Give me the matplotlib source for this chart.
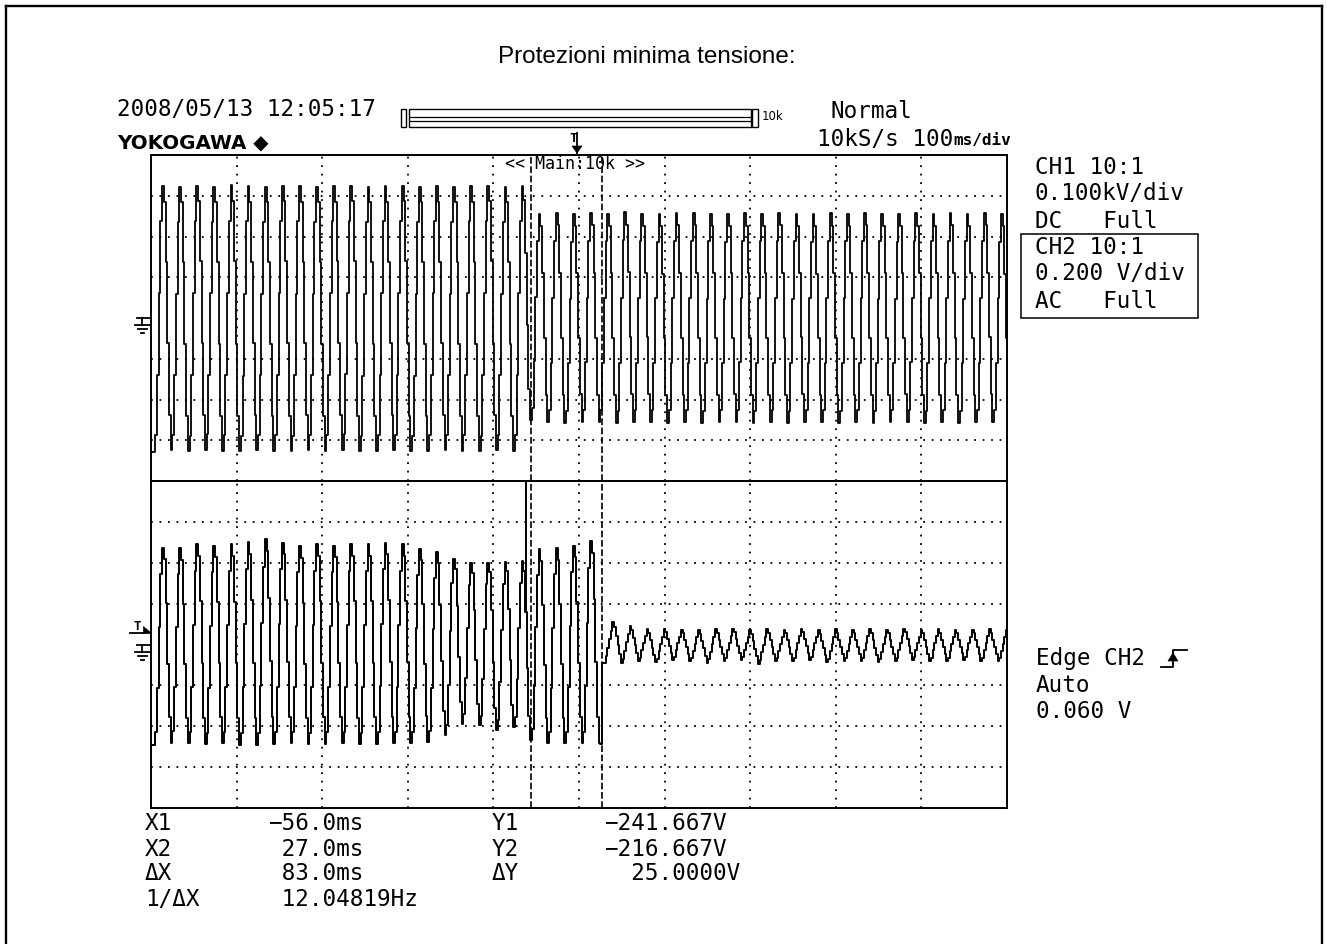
import numpy as np
import matplotlib
matplotlib.use("Agg")
import matplotlib.pyplot as plt
from matplotlib.lines import Line2D
from matplotlib.patches import Rectangle, Polygon

# ---------------- data ----------------
time_per_div_ms = 100.0
ch1_volts_per_div = 100.0      # 0.100 kV/div
ch2_volts_per_div = 0.200      # 0.200 V/div
trigger_level_V = 0.060
trigger_pos_ms = 0.0
cursor_x_ms = [-56.0, 27.0]
cursor_y_V = [-241.667, -216.667]

period_ms = 20.0
first_peak_ms = -485.6

ch1_peak_V = [326, 324, 327, 325, 328, 326, 325, 327, 326, 324, 326, 327, 325, 326,
              327, 325, 326, 324, 326, 327, 325, 326,
              258, 260, 257, 259, 258, 261, 258, 257, 259, 260, 258, 257, 259, 258,
              260, 258, 257, 259, 258, 260, 258, 257, 259, 258, 260, 258, 259, 257]
ch1_trough_V = [-328, -327, -329, -326, -328, -330, -327, -328, -329, -327, -328, -326,
                -329, -328, -327, -329, -328, -327, -328, -329, -327, -328,
                -252, -258, -259, -257, -258, -260, -258, -257, -259, -258, -260, -258,
                -257, -259, -258, -260, -257, -258, -259, -258, -260, -258, -257, -259,
                -258, -260, -258, -257, -259]

ch2_peak_V = [0.478, 0.474, 0.494, 0.486, 0.494, 0.506, 0.518, 0.502, 0.486, 0.494,
              0.486, 0.494, 0.494, 0.502, 0.494, 0.470, 0.454, 0.420, 0.400, 0.404,
              0.408, 0.412, 0.470, 0.474, 0.486, 0.508]
ch2_trough_V = [-0.490, -0.484, -0.488, -0.492, -0.488, -0.494, -0.496, -0.492, -0.488,
                -0.492, -0.490, -0.488, -0.492, -0.490, -0.488, -0.486, -0.480, -0.446,
                -0.390, -0.398, -0.422, -0.406, -0.472, -0.488, -0.488, -0.488, -0.488]

ripple_first_peak_ms = 40.5
ripple_peak_V = [0.120, 0.100, 0.084, 0.084, 0.080, 0.080, 0.084, 0.084, 0.080, 0.084,
                 0.080, 0.084, 0.080, 0.084, 0.080, 0.084, 0.080, 0.084, 0.080, 0.084,
                 0.080, 0.080, 0.084, 0.080]
ripple_trough_V = [-0.090, -0.100, -0.090, -0.096, -0.084, -0.090, -0.100, -0.090,
                   -0.084, -0.104, -0.090, -0.090, -0.084, -0.096, -0.090, -0.090,
                   -0.096, -0.090, -0.084, -0.090, -0.090, -0.084, -0.090, -0.090]

ch2_spike_ms = -62.0
ch2_spike_top_V = 0.85

# ---------------- helpers ----------------
W, H = 1327, 944
fig = plt.figure(figsize=(W / 100, H / 100), dpi=100, facecolor="white")


def fx(x):
    return x / W


def fy(y):
    return 1 - y / H


def pline(xs, ys, lw=1.0, **kw):
    fig.add_artist(Line2D([fx(x) for x in xs], [fy(y) for y in ys],
                          transform=fig.transFigure, color="k", lw=lw, **kw))


def ppoly(pts, **kw):
    fig.add_artist(Polygon([(fx(x), fy(y)) for x, y in pts], closed=True,
                           transform=fig.transFigure, facecolor="k", edgecolor="k",
                           lw=0.5, **kw))


def prect(x0, y0, x1, y1, lw=1.0):
    fig.add_artist(Rectangle((fx(x0), fy(y1)), (x1 - x0) / W, (y1 - y0) / H,
                             transform=fig.transFigure, fill=False,
                             edgecolor="k", lw=lw))


def extremes(first_peak, troughs, peaks, period):
    t, v = [], []
    for j, tv in enumerate(troughs):
        t.append(first_peak - period / 2 + period * j)
        v.append(tv)
        if j < len(peaks):
            t.append(first_peak + period * j)
            v.append(peaks[j])
    return np.array(t), np.array(v, dtype=float)


def shape(ts, te, ve, smooth=True):
    idx = np.clip(np.searchsorted(te, ts, side="right") - 1, 0, len(te) - 2)
    u = np.clip((ts - te[idx]) / (te[idx + 1] - te[idx]), 0, 1)
    w = (1 - np.cos(np.pi * u)) / 2 if smooth else u
    return ve[idx] + (ve[idx + 1] - ve[idx]) * w


# ---------------- screen axes ----------------
L, R, T0, MID, B = 151, 1007, 155, 481, 808
ax1 = fig.add_axes([fx(L), fy(MID), (R - L) / W, (MID - T0) / H])
ax2 = fig.add_axes([fx(L), fy(B), (R - L) / W, (B - MID) / H])

t = np.arange(-5 * time_per_div_ms, 5 * time_per_div_ms + 1, 2.0)

for ax, vdiv in ((ax1, ch1_volts_per_div), (ax2, ch2_volts_per_div)):
    ax.set_xlim(-5 * time_per_div_ms, 5 * time_per_div_ms)
    ax.set_ylim(-4 * vdiv, 4 * vdiv)
    ax.set_xticks([])
    ax.set_yticks([])
    for s in ax.spines.values():
        s.set_linewidth(1.4)
    for k in range(-4, 5):
        ax.axvline(k * time_per_div_ms, color="k", lw=1.3,
                   dashes=(1, 3.7), dash_capstyle="butt", zorder=1)
    for k in (-3, -2, -1, 1, 2, 3):
        ax.axhline(k * vdiv, color="k", lw=1.3,
                   dashes=(1, 3.7), dash_capstyle="butt", zorder=1)
    for cx in cursor_x_ms:
        ax.axvline(cx, color="k", lw=1.2, dashes=(4, 1.6), zorder=3)

# CH1 trace
te1, ve1 = extremes(first_peak_ms, ch1_trough_V, ch1_peak_V, period_ms)
ch1 = shape(t, te1, ve1)
ax1.plot(t, ch1, color="k", lw=1.3, drawstyle="steps-mid", zorder=4)

# CH2 trace: mains wave until the trip, residual ripple afterwards
te2, ve2 = extremes(first_peak_ms, ch2_trough_V, ch2_peak_V, period_ms)
ter, ver = extremes(ripple_first_peak_ms, ripple_trough_V, ripple_peak_V, period_ms)
ch2 = np.where(t <= cursor_x_ms[1], shape(t, te2, ve2), shape(t, ter, ver, smooth=False))
ax2.plot(t, ch2, color="k", lw=1.4, drawstyle="steps-mid", zorder=4)
ax2.vlines(ch2_spike_ms, np.interp(ch2_spike_ms, t, ch2), ch2_spike_top_V,
           color="k", lw=1.4, zorder=4)

fig.canvas.draw()


def ypix(ax, v):
    return H - ax.transData.transform((0, v))[1]


def xpix(ax, tms):
    return ax.transData.transform((tms, 0))[0]


# ground symbols (channel zero level)
for ax in (ax1, ax2):
    y0 = ypix(ax, 0.0)
    pline([137, 151], [y0, y0], lw=1.3)
    pline([142, 142], [y0, y0 + 7], lw=1.3)
    pline([135, 150], [y0 + 7, y0 + 7], lw=1.3)
    pline([138, 147], [y0 + 11, y0 + 11], lw=1.3)
    pline([141, 144], [y0 + 15, y0 + 15], lw=1.3)

# trigger level marker on CH2
yt = ypix(ax2, trigger_level_V)
fig.text(fx(133), fy(yt - 6), "T", family="DejaVu Sans Mono", fontsize=9,
         weight="bold", ha="left", va="center")
pline([130, 144], [yt + 1, yt + 1], lw=1.3)
ppoly([(143, yt - 6), (143, yt + 1), (151, yt + 1)])

# trigger position marker on top
xt = xpix(ax1, trigger_pos_ms)
fig.text(fx(xt - 10), fy(138), "T", family="DejaVu Sans Mono", fontsize=9.5,
         weight="bold", ha="left", va="center")
pline([xt - 2, xt - 2], [133, 153], lw=1.3)
ppoly([(xt - 7, 146), (xt + 3, 146), (xt - 2, 153)])

# outer frame of the page cell
pline([6, 6], [944, 6], lw=1.7)
pline([6, 1322], [6, 6], lw=1.7)
pline([1322, 1322], [6, 944], lw=1.7)

# record-length bar
prect(401, 109, 406, 127, lw=1.0)
prect(409, 109, 751, 127, lw=1.0)
pline([410, 750], [117, 117], lw=0.9)
pline([410, 750], [121, 121], lw=0.9)
prect(752, 109, 758, 127, lw=1.0)
fig.text(fx(762), fy(116), "10k", family="DejaVu Sans", fontsize=8.5,
         ha="left", va="center")

# ---------------- texts ----------------
mono = dict(family="DejaVu Sans Mono", fontsize=16.3, ha="left", va="center")

fig.text(fx(647), fy(57), "Protezioni minima tensione:", family="Liberation Sans",
         fontsize=17.5, ha="center", va="center")

fig.text(fx(117), fy(110), "2008/05/13 12:05:17", **mono)
fig.text(fx(117), fy(143), "YOKOGAWA \u25c6", family="DejaVu Sans", weight="bold",
         fontsize=14.3, ha="left", va="center")
fig.text(fx(830), fy(112), "Normal", **mono)
fig.text(fx(817), fy(139), "10kS/s 100", **mono)
fig.text(fx(953), fy(140), "ms/div", family="DejaVu Sans Mono", fontsize=11.5,
         weight="bold", ha="left", va="center")
fig.text(fx(505), fy(164), "<< Main:10k >>", family="DejaVu Sans Mono",
         fontsize=12, ha="left", va="center")

right_rows = [("CH1 10:1", 167), ("0.100kV/div", 193), ("DC   Full", 221),
              ("CH2 10:1", 247), ("0.200 V/div", 274), ("AC   Full", 301)]
for s, y in right_rows:
    fig.text(fx(1035), fy(y), s, **mono)
prect(1021, 234, 1198, 318, lw=1.1)

fig.text(fx(1036), fy(659), "Edge CH2", **mono)
fig.text(fx(1036), fy(685), "Auto", **mono)
fig.text(fx(1036), fy(712), f"{trigger_level_V:.3f} V", **mono)
pline([1161, 1173, 1173, 1187], [667, 667, 650, 650], lw=1.3)
ppoly([(1168, 661), (1178, 661), (1173, 653)])

dx = cursor_x_ms[1] - cursor_x_ms[0]
dy = cursor_y_V[1] - cursor_y_V[0]


def fmt(v, spec):
    return format(v, spec).replace("-", "\u2212")


rows = [("X1", fmt(cursor_x_ms[0], ".1f") + "ms", "Y1", fmt(cursor_y_V[0], ".3f") + "V"),
        ("X2", " " + fmt(cursor_x_ms[1], ".1f") + "ms", "Y2", fmt(cursor_y_V[1], ".3f") + "V"),
        ("\u0394X", " " + fmt(dx, ".1f") + "ms", "\u0394Y", "  " + fmt(dy, ".4f") + "V"),
        ("1/\u0394X", " " + fmt(1000.0 / dx, ".5f") + "Hz", "", "")]
for (a, b, c, d), y in zip(rows, [824, 849, 874, 899]):
    fig.text(fx(145), fy(y), a, **mono)
    fig.text(fx(268), fy(y), b, **mono)
    if c:
        fig.text(fx(492), fy(y), c, **mono)
        fig.text(fx(604), fy(y), d, **mono)

fig.savefig("out.png", dpi=100, facecolor="white")
